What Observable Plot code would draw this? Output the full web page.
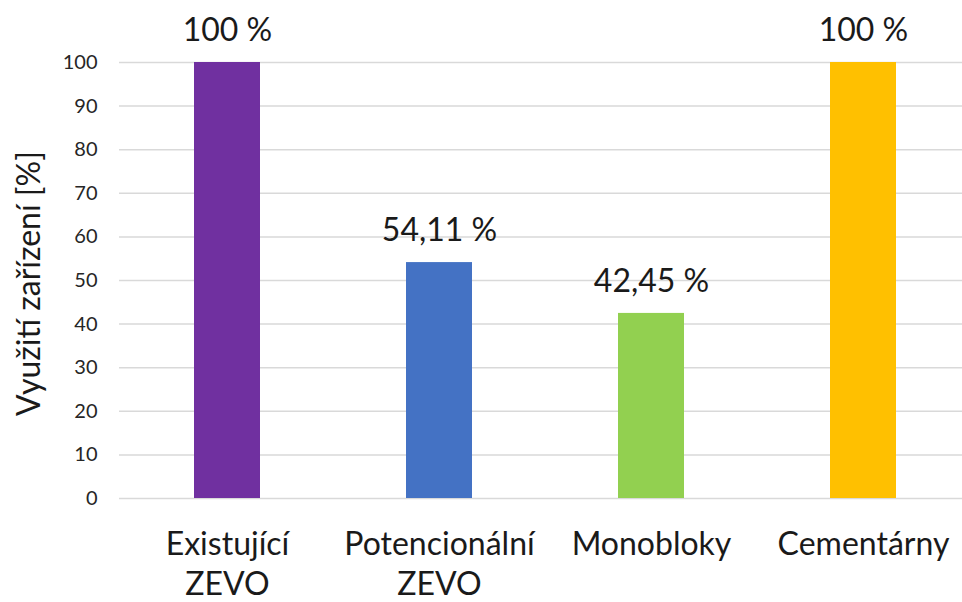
<!DOCTYPE html>
<html>
<head>
<meta charset="utf-8">
<script src="https://cdn.jsdelivr.net/npm/d3@7"></script>
<script src="https://cdn.jsdelivr.net/npm/@observablehq/plot@0.6"></script>
<style>
  html, body { margin: 0; padding: 0; background: #fff; }
  #chart svg { display: block; }
</style>
</head>
<body>
<div id="chart"></div>
<script>
const categories = ["Existující ZEVO", "Potencionální ZEVO", "Monobloky", "Cementárny"];
const tickLabels = ["Existující\nZEVO", "Potencionální\nZEVO", "Monobloky", "Cementárny"];
const values = [100, 54.11, 42.45, 100];
const valueLabels = ["100 %", "54,11 %", "42,45 %", "100 %"];
const colors = ["#7030A0", "#4472C4", "#92D050", "#FFC000"];
const yTicks = [0, 10, 20, 30, 40, 50, 60, 70, 80, 90, 100];
const yTitle = "Využití zařízení [%]";

const data = categories.map((c, i) => ({category: c, value: values[i], label: valueLabels[i], color: colors[i]}));

const chart = Plot.plot({
  width: 962,
  height: 602,
  marginLeft: 119,
  marginRight: 0,
  marginTop: 62,
  marginBottom: 104,
  style: {fontFamily: "Lato, 'Open Sans', sans-serif", background: "#fff"},
  x: {domain: categories, range: [119, 970], paddingInner: 0.69, paddingOuter: 0.345, align: 0.5},
  y: {domain: [0, 100], range: [498, 62]},
  marks: [
    Plot.ruleY(yTicks, {stroke: "#d9d9d9", strokeWidth: 1.5}),
    Plot.barY(data, {x: "category", y: "value", fill: "color"}),
    Plot.text(data, {x: "category", y: "value", text: "label", dy: -32, fontSize: 32, fill: "#1a1a1a"}),
    Plot.axisY({ticks: yTicks, tickSize: 0, tickPadding: 22, fontSize: 20, label: null, color: "#262626"}),
    Plot.axisX({tickSize: 0, tickPadding: 28, fontSize: 32, lineHeight: 1.25, label: null, color: "#1a1a1a",
      tickFormat: d => tickLabels[categories.indexOf(d)]}),
    Plot.text([yTitle], {frameAnchor: "left", textAnchor: "middle", rotate: -90, dx: -90, dy: 3, fontSize: 32, fill: "#1a1a1a"})
  ]
});
document.getElementById("chart").append(chart);
</script>
</body>
</html>
